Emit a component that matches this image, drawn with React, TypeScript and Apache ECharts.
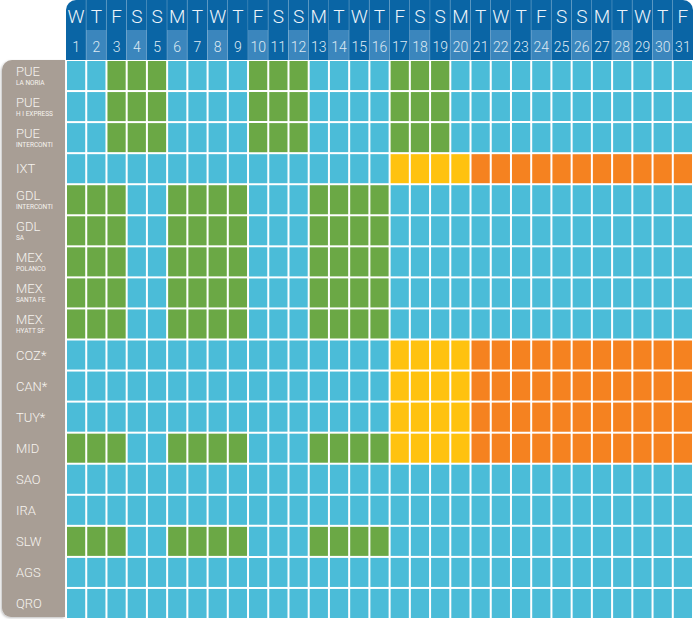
import React, { useEffect, useRef } from 'react';
import * as echarts from 'echarts';

const days = ['1', '2', '3', '4', '5', '6', '7', '8', '9', '10', '11', '12', '13', '14', '15', '16', '17', '18', '19', '20', '21', '22', '23', '24', '25', '26', '27', '28', '29', '30', '31'];
const weekdays = ['W', 'T', 'F', 'S', 'S', 'M', 'T', 'W', 'T', 'F', 'S', 'S', 'M', 'T', 'W', 'T', 'F', 'S', 'S', 'M', 'T', 'W', 'T', 'F', 'S', 'S', 'M', 'T', 'W', 'T', 'F'];

const hotelCodes = ['PUE', 'PUE', 'PUE', 'IXT', 'GDL', 'GDL', 'MEX', 'MEX', 'MEX', 'COZ*', 'CAN*', 'TUY*', 'MID', 'SAO', 'IRA', 'SLW', 'AGS', 'QRO'];
const hotelSubtitles = ['LA NORIA', 'H I EXPRESS', 'INTERCONTI', '', 'INTERCONTI', 'SA', 'POLANCO', 'SANTA FE', 'HYATT SF', '', '', '', '', '', '', '', '', ''];

// B = available (blue), G = green, Y = yellow, O = orange
const availability = [
  'BBGGGBBBBGGGBBBBGGGBBBBBBBBBBBB',
  'BBGGGBBBBGGGBBBBGGGBBBBBBBBBBBB',
  'BBGGGBBBBGGGBBBBGGGBBBBBBBBBBBB',
  'BBBBBBBBBBBBBBBBYYYYOOOOOOOOOOO',
  'GGGBBGGGGBBBGGGGBBBBBBBBBBBBBBB',
  'GGGBBGGGGBBBGGGGBBBBBBBBBBBBBBB',
  'GGGBBGGGGBBBGGGGBBBBBBBBBBBBBBB',
  'GGGBBGGGGBBBGGGGBBBBBBBBBBBBBBB',
  'GGGBBGGGGBBBGGGGBBBBBBBBBBBBBBB',
  'BBBBBBBBBBBBBBBBYYYYOOOOOOOOOOO',
  'BBBBBBBBBBBBBBBBYYYYOOOOOOOOOOO',
  'BBBBBBBBBBBBBBBBYYYYOOOOOOOOOOO',
  'GGGBBGGGGBBBGGGGYYYYOOOOOOOOOOO',
  'BBBBBBBBBBBBBBBBBBBBBBBBBBBBBBB',
  'BBBBBBBBBBBBBBBBBBBBBBBBBBBBBBB',
  'GGGBBGGGGBBBGGGGBBBBBBBBBBBBBBB',
  'BBBBBBBBBBBBBBBBBBBBBBBBBBBBBBB',
  'BBBBBBBBBBBBBBBBBBBBBBBBBBBBBBB',
];

const statusKeys = ['B', 'G', 'Y', 'O'];
const statusColors = ['#4bbcd8', '#6ba845', '#ffc20f', '#f58220'];

const headerDark = '#0a65a5';
const headerLight = '#3b86bd';

export default function App() {
  const ref = useRef<HTMLDivElement>(null);

  useEffect(() => {
    document.body.style.margin = '0';
    const chart = echarts.init(ref.current!, undefined, { renderer: 'svg' });

    const rowNames = hotelCodes.map((c, i) => (hotelSubtitles[i] ? c + ' ' + hotelSubtitles[i] : c));

    const cellData: number[][] = [];
    availability.forEach((row, r) => {
      row.split('').forEach((ch, d) => {
        cellData.push([d, r, statusKeys.indexOf(ch)]);
      });
    });

    const headerData: number[][] = [];
    days.forEach((_, d) => {
      headerData.push([d, 0]);
      headerData.push([d, 1]);
    });

    const option: any = {
      animation: false,
      backgroundColor: '#ffffff',
      graphic: [
        {
          type: 'rect',
          z: -1,
          shape: { x: 2, y: 60, width: 63, height: 557, r: [10, 0, 0, 9] },
          style: { fill: '#a89e95', shadowColor: 'rgba(0,0,0,0.25)', shadowBlur: 2, shadowOffsetX: -1, shadowOffsetY: 1 },
        },
      ],
      grid: [
        { left: 66, top: 60, width: 627, height: 559, outerBoundsMode: 'none' },
        { left: 66, top: 0, width: 627, height: 60, outerBoundsMode: 'none' },
      ],
      xAxis: [
        { type: 'category', gridIndex: 0, data: days, show: false },
        { type: 'category', gridIndex: 1, data: days, show: false },
      ],
      yAxis: [
        {
          type: 'category',
          gridIndex: 0,
          data: rowNames,
          inverse: true,
          z: 10,
          axisLine: { show: false },
          axisTick: { show: false },
          splitLine: { show: false },
          axisLabel: {
            align: 'left',
            margin: 50,
            formatter: (_v: string, i: number) =>
              hotelSubtitles[i] ? `{a|${hotelCodes[i]}}\n{b|${hotelSubtitles[i]}}` : `{a|${hotelCodes[i]}}`,
            rich: {
              a: { fontSize: 13, lineHeight: 14, color: '#f6f3ef', fontFamily: 'Roboto', fontWeight: 300 },
              b: { fontSize: 6.5, lineHeight: 8, color: '#f6f3ef', fontFamily: 'Roboto' },
            },
          },
        },
        { type: 'category', gridIndex: 1, data: ['dow', 'num'], inverse: true, show: false },
      ],
      series: [
        {
          type: 'custom',
          xAxisIndex: 0,
          yAxisIndex: 0,
          encode: { x: 0, y: 1 },
          data: cellData,
          renderItem: (_p: any, api: any) => {
            const c = api.coord([api.value(0), api.value(1)]);
            const s = api.size([1, 1]);
            return {
              type: 'rect',
              shape: { x: c[0] - s[0] / 2 + 1, y: c[1] - s[1] / 2 + 1, width: s[0] - 2, height: s[1] - 2 },
              style: { fill: statusColors[api.value(2)] },
            };
          },
        },
        {
          type: 'custom',
          xAxisIndex: 1,
          yAxisIndex: 1,
          encode: { x: 0, y: 1 },
          data: headerData,
          renderItem: (_p: any, api: any) => {
            const col = api.value(0);
            const row = api.value(1);
            const c = api.coord([col, row]);
            const s = api.size([1, 1]);
            const x0 = c[0] - s[0] / 2;
            const y0 = c[1] - s[1] / 2;
            const fill = row === 0 ? headerDark : col % 2 === 0 ? headerDark : headerLight;
            let r: any = 0;
            if (row === 0 && col === 0) r = [10, 0, 0, 0];
            if (row === 0 && col === days.length - 1) r = [0, 10, 0, 0];
            const children: any[] = [
              { type: 'rect', shape: { x: x0, y: y0, width: s[0], height: s[1], r }, style: { fill } },
            ];
            if (col < days.length - 1) {
              children.push({
                type: 'line',
                shape: { x1: x0 + s[0], y1: y0, x2: x0 + s[0], y2: y0 + s[1] },
                style: { stroke: 'rgba(255,255,255,0.3)', lineWidth: 1 },
              });
            }
            children.push({
              type: 'text',
              style: {
                text: row === 0 ? weekdays[col] : days[col],
                x: c[0],
                y: c[1] + 1.5,
                align: 'center',
                verticalAlign: 'middle',
                fontSize: row === 0 ? 19 : 14,
                fontFamily: 'Roboto',
                fontWeight: 300,
                fill: row === 0 ? '#eef4fa' : '#dde9f3',
              },
            });
            return { type: 'group', children };
          },
        },
      ],
    };

    chart.setOption(option);
    return () => chart.dispose();
  }, []);

  return <div ref={ref} style={{ position: 'fixed', left: 0, top: 0, width: 693, height: 619 }} />;
}
